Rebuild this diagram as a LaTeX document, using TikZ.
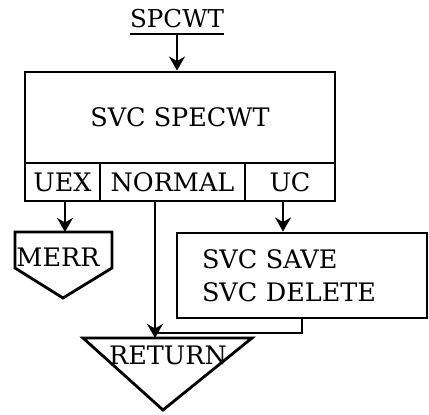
\documentclass[tikz,border=0pt]{standalone}
\usepackage{fontspec}
\setmainfont{DejaVu Serif}
\usetikzlibrary{arrows.meta, positioning, calc}
\tikzset{
  box/.style={rectangle, draw=black, line width=1.6pt, inner sep=0pt,
              minimum width=#1, font=\fontsize{14.5}{19}\selectfont},
  box/.default=2cm,
  cell/.style={rectangle, draw=black, line width=1.6pt, inner sep=0pt,
               minimum width=#1, minimum height=0.76cm, font=\fontsize{14.5}{16}\selectfont},
  cell/.default=1.5cm,
  lbl/.style={inner sep=0pt, font=\fontsize{#1}{16}\selectfont},
  lbl/.default=14,
  arrow/.style={-{Stealth[length=8pt, width=9pt]}, line width=1.6pt},
  line/.style={line width=1.6pt},
}
\begin{document}
\begin{tikzpicture}[x=0.02cm, y=-0.02cm]
  \useasboundingbox (0,0) rectangle (429,415);
  % entry
  \node[lbl] (spcwt) at (177,19) {SPCWT};
  \draw[line] ([yshift=-3pt]spcwt.south west) -- ([yshift=-3pt]spcwt.south east);
  % main call
  \node[box=6.2cm, minimum height=1.82cm] (svc) at (180,117.5) {SVC SPECWT};
  \node[cell=1.5cm] (uex) at (62.5,182) {UEX};
  \node[cell=2.9cm] (normal) at (172.5,182) {NORMAL};
  \node[cell=1.8cm] (uc) at (290,182) {UC};
  % exits
  \draw[line] (15,232) -- (112,232) -- (112,268) -- (63,298) -- (15,268) -- cycle;
  \node[lbl=14.5] (merr) at (58,257) {MERR};
  \node[box=5cm, minimum height=1.7cm, align=left, text width=4cm] (save) at (302,275.5)
       {SVC SAVE\\SVC DELETE};
  \draw[line] (83,338) -- (252,338) -- (163,410) -- cycle;
  \node[lbl=14.5] (ret) at (168,355) {RETURN};
  \coordinate (merrtop) at (65,232);
  \coordinate (rettop) at (155,338);
  \coordinate (join) at (155,333);
  % connectors
  \draw[arrow] ([yshift=-3pt]spcwt.south) -- (spcwt.south |- svc.north);
  \draw[arrow] (uex.south -| merrtop) -- (merrtop);
  \draw[arrow] (uc.south -| 283,0) -- (save.north -| 283,0);
  \draw[arrow] (normal.south -| rettop) -- (rettop);
  \draw[line] (save.south) |- (join);
\end{tikzpicture}
\end{document}
